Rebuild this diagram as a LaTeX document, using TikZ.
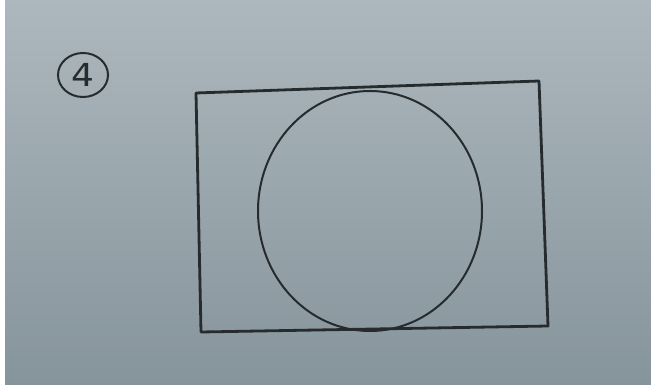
\documentclass[tikz,border=0pt]{standalone}
\usepackage{fontspec}
\newfontfamily\handfont{DejaVu Sans}
\usepackage{tikz}
\usetikzlibrary{positioning, calc}
\definecolor{paperTop}{HTML}{ADB8BE}
\definecolor{paperBot}{HTML}{86949B}
\definecolor{pencil}{HTML}{262B2E}

\begin{document}
\begin{tikzpicture}[
  x=1pt, y=-1pt,
  pen/.style   = {draw=pencil, line width=2.8pt, line cap=round, line join=round},
  thin/.style  = {draw=pencil, line width=2pt},
  badge/.style = {circle, draw=pencil, line width=2pt, inner sep=0pt,
                  minimum width=50pt, text=pencil,
                  font=\handfont\fontsize{36}{38}\selectfont},
]
  \useasboundingbox (0,0) rectangle (651,387);
  \fill[white] (0,0) rectangle (651,387);
  \fill[top color=paperTop, bottom color=paperBot] (5,0) rectangle (651,385);

  \node[badge, yscale=0.88] (num) at (83,75) {4};

  % frame
  \coordinate (tl) at (196,93);
  \coordinate (tr) at (539,81);
  \coordinate (br) at (548,326);
  \coordinate (bl) at (201,332);
  \draw[pen] (tl) -- (tr) -- (br) -- (bl) -- cycle;

  % ball
  \coordinate (mid) at (370,211);
  \draw[thin] (mid) ellipse [x radius=112, y radius=120];
\end{tikzpicture}
\end{document}
